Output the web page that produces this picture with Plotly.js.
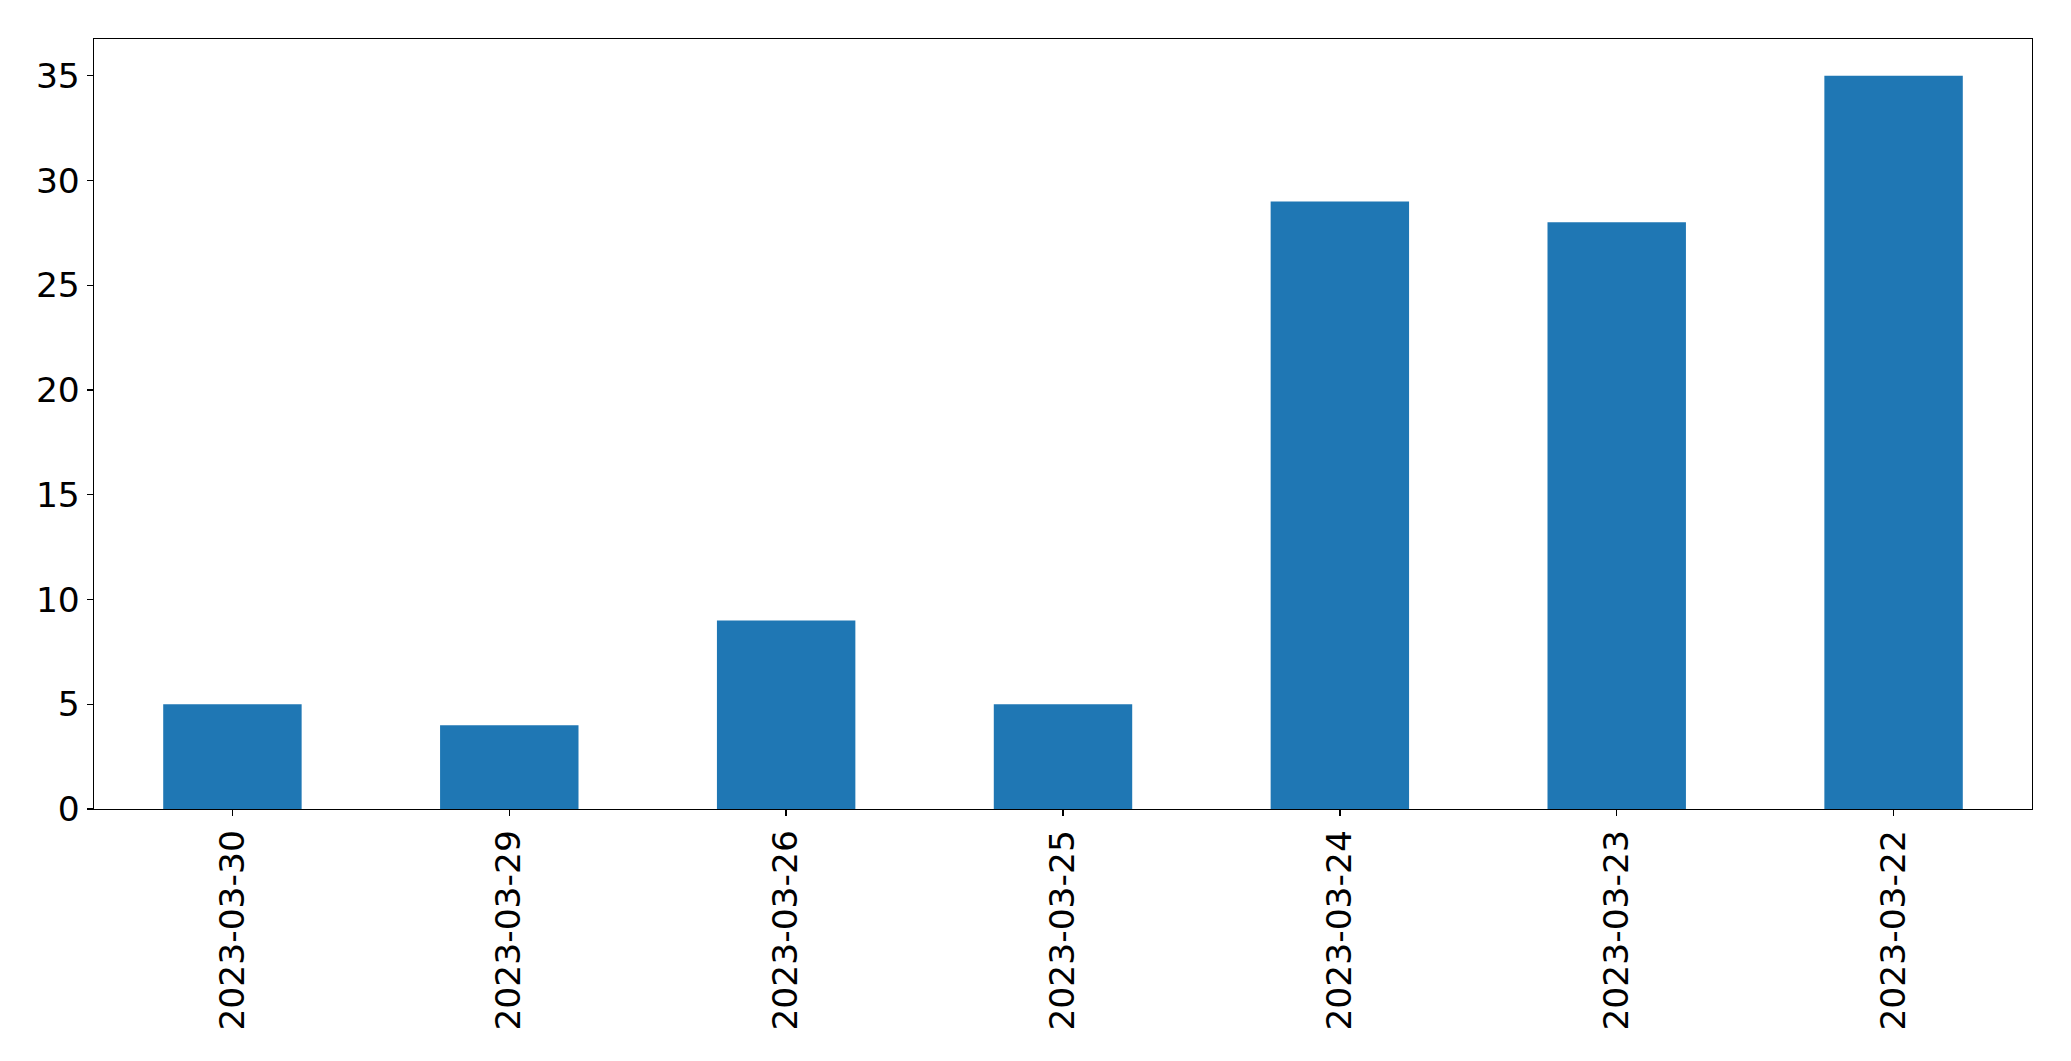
<!DOCTYPE html>
<html>
<head>
<meta charset="utf-8">
<script src="https://cdn.plot.ly/plotly-3.0.1.min.js"></script>
<style>html,body{margin:0;padding:0;background:#fff;}#chart{width:2071px;height:1061px;}</style>
</head>
<body>
<div id="chart"></div>
<script>
const categories = ["2023-03-30", "2023-03-29", "2023-03-26", "2023-03-25", "2023-03-24", "2023-03-23", "2023-03-22"];
const values = [5, 4, 9, 5, 29, 28, 35];
const yTicks = [0, 5, 10, 15, 20, 25, 30, 35];

const trace = {
  type: "bar",
  x: categories,
  y: values,
  marker: {color: "#1f77b4", line: {width: 0}},
  hoverinfo: "x+y"
};

const layout = {
  width: 2071,
  height: 1061,
  margin: {l: 94, r: 39, t: 39, b: 252, pad: 0},
  paper_bgcolor: "#ffffff",
  plot_bgcolor: "#ffffff",
  bargap: 0.5,
  showlegend: false,
  font: {family: "DejaVu Sans, sans-serif", size: 34.5, color: "#000000"},
  xaxis: {
    type: "category",
    range: [-0.5, 6.5],
    tickangle: -90,
    ticks: "outside",
    ticklen: 6,
    tickwidth: 1.3,
    tickcolor: "#000",
    showline: true,
    linecolor: "#000",
    linewidth: 1.3,
    mirror: true,
    showgrid: false,
    zeroline: false,
    tickfont: {family: "DejaVu Sans, sans-serif", size: 34.5, color: "#000"}
  },
  yaxis: {
    range: [0, 36.75],
    tickmode: "array",
    tickvals: yTicks,
    ticktext: yTicks.map(String),
    ticks: "outside",
    ticklen: 6,
    tickwidth: 1.3,
    tickcolor: "#000",
    showline: true,
    linecolor: "#000",
    linewidth: 1.3,
    mirror: true,
    showgrid: false,
    zeroline: false,
    tickfont: {family: "DejaVu Sans, sans-serif", size: 34.5, color: "#000"}
  }
};

Plotly.newPlot("chart", [trace], layout, {displayModeBar: false, staticPlot: true});
</script>
</body>
</html>
